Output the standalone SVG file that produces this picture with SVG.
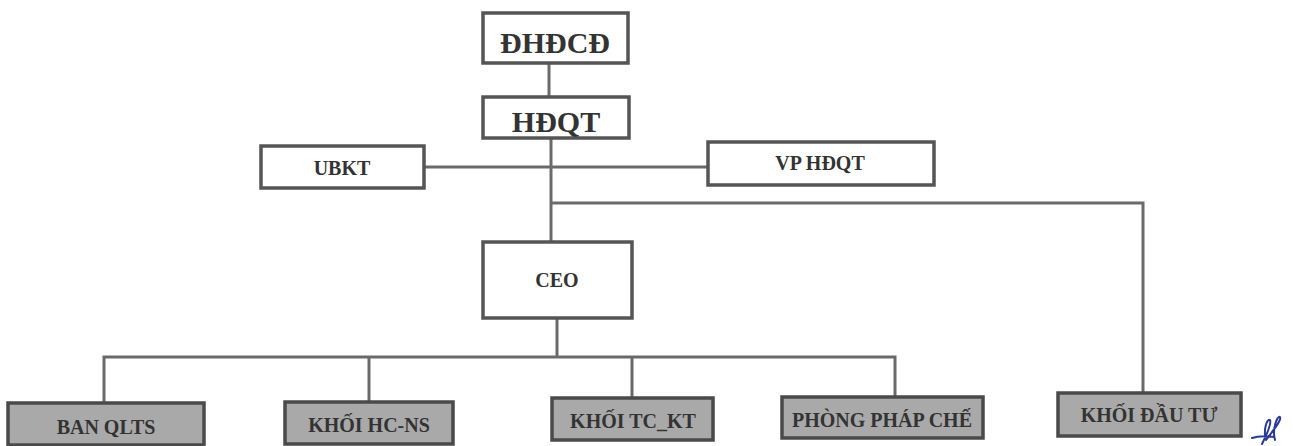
<svg xmlns="http://www.w3.org/2000/svg" width="1294" height="446" viewBox="0 0 1294 446">
<style>
.box{fill:#ffffff;stroke:#555;stroke-width:3.5}
.gbox{fill:#a9a9a9;stroke:#4a4a4a;stroke-width:3.5}
.t{font-family:"Liberation Serif","Times New Roman",serif;font-weight:bold;fill:#333333;text-anchor:middle}
.big{font-size:30px}
.mid{font-size:20px}
.line{fill:none;stroke:#6a6a6a;stroke-width:3}
</style>
<rect width="1294" height="446" fill="#ffffff"/>
<g id="connectors">
<path class="line" d="M549,63 V97"/>
<path class="line" d="M551,139 V242"/>
<path class="line" d="M424,167 H708"/>
<path class="line" d="M551,203 H1143 V393"/>
<path class="line" d="M557,318 V356"/>
<path class="line" d="M104,403 V357 H895 V397"/>
<path class="line" d="M369,356 V402"/>
<path class="line" d="M632,356 V398"/>
</g>
<g id="n-dhdcd"><rect class="box" x="483" y="13" width="145" height="50"/><text class="t big" x="555" y="53">ĐHĐCĐ</text></g>
<g id="n-hdqt"><rect class="box" x="483" y="97" width="146" height="41"/><text class="t big" x="556" y="132">HĐQT</text></g>
<g id="n-ubkt"><rect class="box" x="261" y="146" width="163" height="42"/><text class="t mid" x="342" y="175">UBKT</text></g>
<g id="n-vphdqt"><rect class="box" x="708" y="142" width="226" height="43"/><text class="t mid" x="820" y="170">VP HĐQT</text></g>
<g id="n-ceo"><rect class="box" x="483" y="242" width="149" height="76"/><text class="t mid" x="557" y="287">CEO</text></g>
<g id="n-banqlts"><rect class="gbox" x="8" y="403" width="196" height="42"/><text class="t mid" x="106" y="434">BAN QLTS</text></g>
<g id="n-hcns"><rect class="gbox" x="285" y="402" width="168" height="42"/><text class="t mid" x="369" y="432">KHỐI HC-NS</text></g>
<g id="n-tckt"><rect class="gbox" x="552" y="398" width="161" height="42"/><text class="t mid" x="633" y="428">KHỐI TC_KT</text></g>
<g id="n-phapche"><rect class="gbox" x="782" y="397" width="201" height="41"/><text class="t mid" x="882" y="427">PHÒNG PHÁP CHẾ</text></g>
<g id="n-dautu"><rect class="gbox" x="1058" y="393" width="183" height="43"/><text class="t mid" x="1149" y="422">KHỐI ĐẦU TƯ</text></g>
<path d="M1262,444 C1266,436 1272,424 1270,420 C1267,418 1263,430 1266,440 M1266,440 C1272,432 1282,420 1280,417 C1277,415 1272,430 1275,440 M1252,438 C1258,436 1266,436 1274,437" fill="none" stroke="#2a3a9a" stroke-width="2" stroke-linecap="round"/>
</svg>
